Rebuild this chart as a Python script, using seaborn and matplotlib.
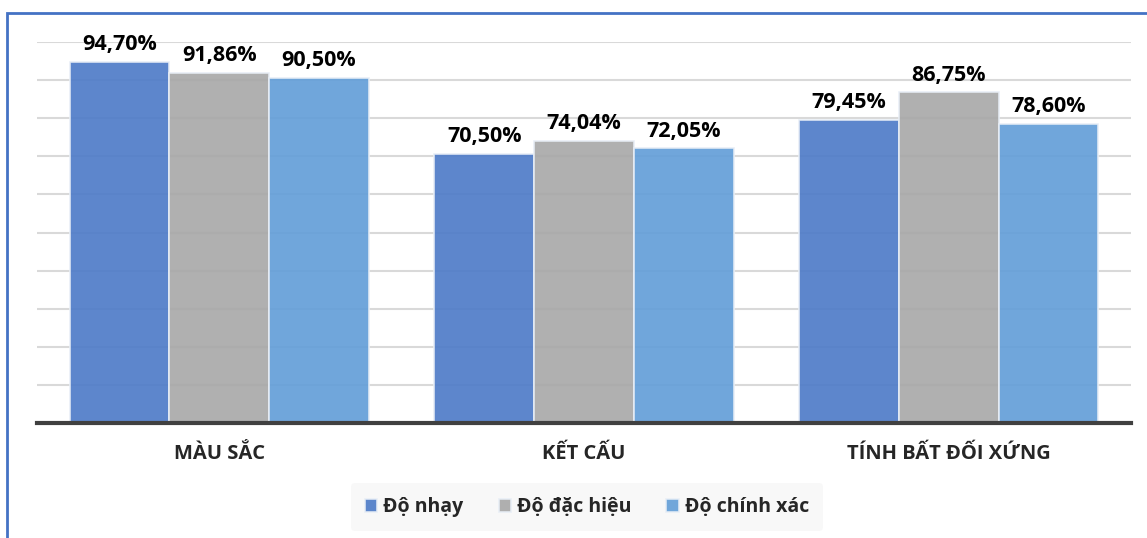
import matplotlib
matplotlib.use("Agg")
import matplotlib.pyplot as plt
import seaborn as sns
import pandas as pd
from matplotlib.patches import Rectangle

categories = ["MÀU SẮC", "KẾT CẤU", "TÍNH BẤT ĐỐI XỨNG"]
series = ["Độ nhạy", "Độ đặc hiệu", "Độ chính xác"]
do_nhay = [94.70, 70.50, 79.45]
do_dac_hieu = [91.86, 74.04, 86.75]
do_chinh_xac = [90.50, 72.05, 78.60]
colors = ["#4F7CC8", "#A9A9A9", "#649FD8"]

sns.set_theme(style="white")
plt.rcParams["font.family"] = ["Open Sans", "Noto Sans", "DejaVu Sans"]
plt.rcParams["font.weight"] = "bold"

rows = []
for s, vals in zip(series, [do_nhay, do_dac_hieu, do_chinh_xac]):
    for c, v in zip(categories, vals):
        rows.append({"cat": c, "series": s, "value": v})
df = pd.DataFrame(rows)

fig = plt.figure(figsize=(11.47, 5.38), dpi=100)
W, H = 1147, 538
ax = fig.add_axes([37 / W, 1 - 423 / H, (1131 - 37) / W, (423 - 42) / H])

sns.barplot(data=df, x="cat", y="value", hue="series", order=categories,
            hue_order=series, palette=colors, width=0.82, ax=ax,
            edgecolor="#E8EEF6", linewidth=1.2, alpha=0.92, saturation=1,
            legend=True, zorder=3)

ax.set_ylim(0, 100)
ax.set_xlim(-0.5, 2.5)
ax.set_yticks(range(0, 101, 10))
ax.set_yticklabels([])
ax.tick_params(axis="y", length=0)
ax.tick_params(axis="x", length=0, pad=15, labelsize=14.5)
for lbl in ax.get_xticklabels():
    lbl.set_fontweight("bold")
ax.set_xlabel("")
ax.set_ylabel("")
ax.grid(axis="y", color="#D9D9D9", linewidth=1.5, zorder=0)
ax.set_axisbelow(True)
for sp in ["top", "right", "left"]:
    ax.spines[sp].set_visible(False)
ax.spines["bottom"].set_color("#404040")
ax.spines["bottom"].set_linewidth(3)
ax.spines["bottom"].set_zorder(5)

for cont in ax.containers:
    labels = [f"{b.get_height():.2f}%".replace(".", ",") for b in cont]
    ax.bar_label(cont, labels=labels, padding=5, fontsize=15.5,
                 fontweight="bold", color="black")

handles, labs = ax.get_legend_handles_labels()
ax.get_legend().remove()
leg = fig.legend(handles, labs, loc="center", bbox_to_anchor=(587 / W, 1 - 507 / H),
                 ncol=3, frameon=True, fontsize=14, handlelength=0.65,
                 handleheight=0.65, handletextpad=0.3, columnspacing=1.8,
                 borderpad=0.7, borderaxespad=0)
leg.get_frame().set_facecolor("#F7F7F7")
leg.get_frame().set_edgecolor("none")
for t in leg.get_texts():
    t.set_fontweight("bold")

fig.patches.append(Rectangle((7 / W, -0.1), 1.2, 1 - 13 / H + 0.1,
                             transform=fig.transFigure, fill=False,
                             edgecolor="#4472C4", linewidth=2))

fig.savefig("out.png", dpi=100, facecolor="white")
